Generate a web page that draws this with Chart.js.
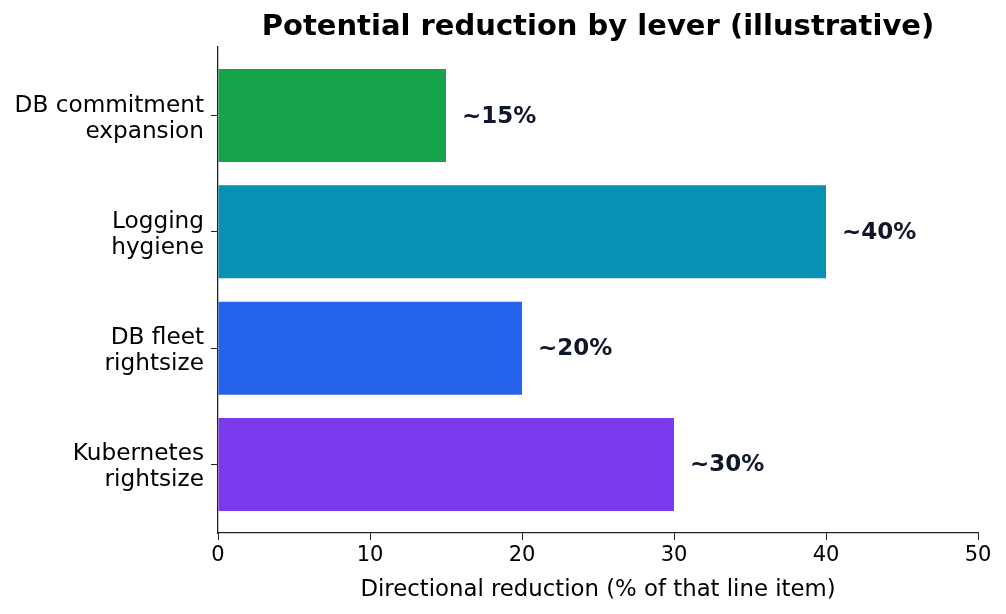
<!DOCTYPE html>
<html>
<head>
<meta charset="utf-8">
<script src="https://cdn.jsdelivr.net/npm/chart.js@4"></script>
<style>
  html, body { margin: 0; padding: 0; background: #fff; }
  #wrap { width: 1006px; height: 614px; }
</style>
</head>
<body>
<div id="wrap"><canvas id="myChart" width="1006" height="614"></canvas></div>
<script>
// bottom-to-top order, as the bars stack up from the x axis
const levers = [
  ["Kubernetes", "rightsize"],
  ["DB fleet", "rightsize"],
  ["Logging", "hygiene"],
  ["DB commitment", "expansion"],
];
const reduction = [30, 20, 40, 15];
const valueLabels = ["~30%", "~20%", "~40%", "~15%"];
const barColors = ["#7c3aed", "#2563eb", "#0891b2", "#16a34a"];
const xTicks = [0, 10, 20, 30, 40, 50];

const FONT = "'DejaVu Sans', sans-serif";
const AXIS = "#222";

// text next to each bar
const valueLabelPlugin = {
  id: "valueLabels",
  afterDatasetsDraw(chart) {
    const ctx = chart.ctx;
    const meta = chart.getDatasetMeta(0);
    ctx.save();
    ctx.font = "bold 23px " + FONT;
    ctx.fillStyle = "#0f172a";
    ctx.textAlign = "left";
    ctx.textBaseline = "middle";
    meta.data.forEach((bar, i) => {
      ctx.fillText(valueLabels[i], bar.x + 16, bar.y + 1);
    });
    ctx.restore();
  },
};

// two-line category labels, placed a bit lower like matplotlib does
const leverLabelPlugin = {
  id: "leverLabels",
  afterDraw(chart) {
    const ctx = chart.ctx;
    const y = chart.scales.y;
    ctx.save();
    ctx.font = "23.2px " + FONT;
    ctx.fillStyle = "#000";
    ctx.textAlign = "right";
    ctx.textBaseline = "middle";
    levers.forEach((lines, i) => {
      const py = y.getPixelForValue(i);
      ctx.fillText(lines[0], y.right - 14, py - 10);
      ctx.fillText(lines[1], y.right - 14, py + 16);
    });
    ctx.restore();
  },
};

// title centred over the plot area
const titlePlugin = {
  id: "plotTitle",
  afterDraw(chart) {
    const ctx = chart.ctx;
    const area = chart.chartArea;
    ctx.save();
    ctx.font = "bold 29px " + FONT;
    ctx.fillStyle = "#000";
    ctx.textAlign = "center";
    ctx.textBaseline = "middle";
    ctx.fillText("Potential reduction by lever (illustrative)", (area.left + area.right) / 2, 27);
    ctx.restore();
  },
};

const ctx = document.getElementById("myChart").getContext("2d");
const myChart = new Chart(ctx, {
  type: "bar",
  data: {
    datasets: [
      {
        data: reduction.map((v, i) => ({ x: v, y: i })),
        backgroundColor: barColors,
        borderWidth: 0,
        categoryPercentage: 1,
        barPercentage: 0.8,
      },
    ],
  },
  options: {
    indexAxis: "y",
    responsive: false,
    animation: false,
    layout: {
      padding: { top: 47, right: 28, left: 0, bottom: 0 },
    },
    plugins: {
      legend: { display: false },
      tooltip: { enabled: false },
    },
    scales: {
      x: {
        type: "linear",
        min: 0,
        max: 50,
        afterBuildTicks: (scale) => {
          scale.ticks = xTicks.map((v) => ({ value: v }));
        },
        ticks: {
          color: "#000",
          font: { family: FONT, size: 21 },
          padding: 3,
          maxRotation: 0,
        },
        grid: {
          drawOnChartArea: false,
          drawTicks: true,
          tickLength: 7,
          color: AXIS,
        },
        border: { display: true, color: AXIS, width: 1.3 },
        title: {
          display: true,
          text: "Directional reduction (% of that line item)",
          color: "#000",
          font: { family: FONT, size: 22.8 },
          padding: { top: 0, bottom: 10 },
        },
        afterFit: (scale) => {
          scale.height = 81;
        },
      },
      y: {
        type: "linear",
        offset: false,
        min: -0.59,
        max: 3.59,
        afterBuildTicks: (scale) => {
          scale.ticks = levers.map((_, i) => ({ value: i }));
        },
        ticks: {
          display: false,
        },
        grid: {
          offset: false,
          drawOnChartArea: false,
          drawTicks: true,
          tickLength: 7,
          color: AXIS,
        },
        border: { display: true, color: AXIS, width: 1.3 },
        afterFit: (scale) => {
          scale.width = 218;
        },
      },
    },
  },
  plugins: [valueLabelPlugin, leverLabelPlugin, titlePlugin],
});
</script>
</body>
</html>
